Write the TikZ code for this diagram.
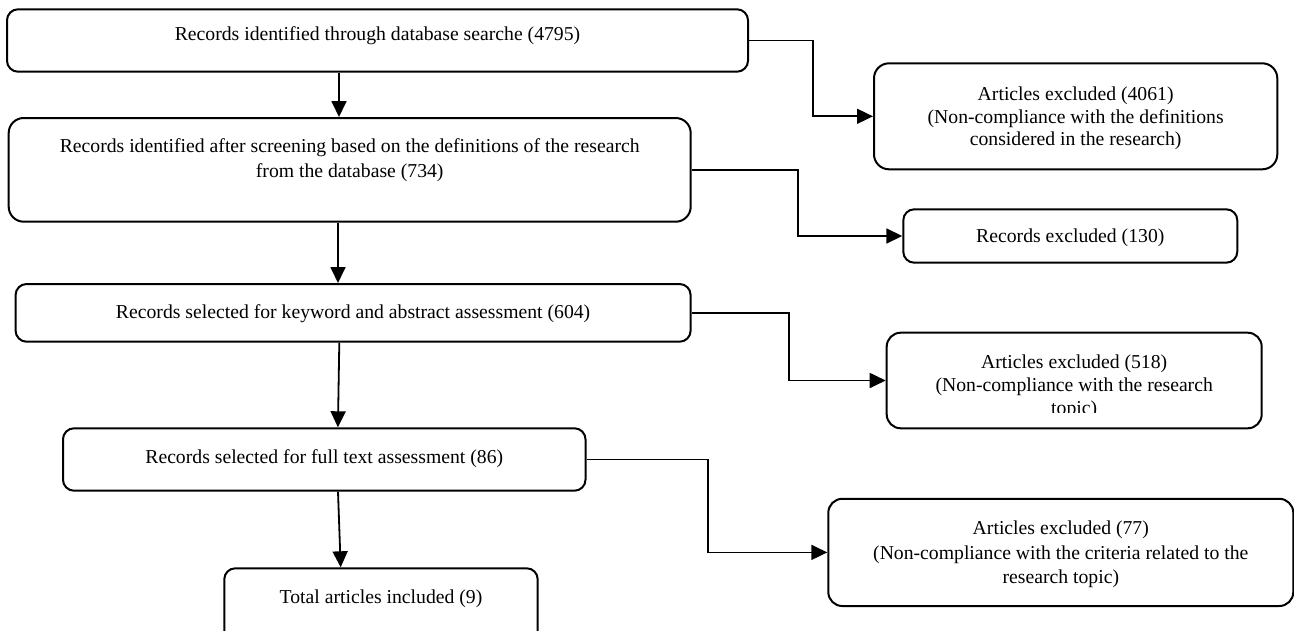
\documentclass[tikz,border=0pt]{standalone}
\usepackage{fontspec}
\setmainfont{Liberation Serif}
\usetikzlibrary{arrows.meta}
\begin{document}
\begin{tikzpicture}[x=1pt,y=-1pt,
  box/.style={draw, line width=2pt, rounded corners=11pt, inner sep=0pt},
  txt/.style={anchor=base, inner sep=0pt, font=\fontsize{19.7}{22.5}\selectfont},
  conn/.style={line width=1.8pt, -{Triangle[length=16pt,width=15pt]}}]
\useasboundingbox (0,0) rectangle (1294,630);
\clip (0,0) rectangle (1294,630);
% left column boxes
\node[box, minimum width=741pt, minimum height=62.4pt] (A) at (377.5,40.5) {};
\node[box, rounded corners=15pt, minimum width=682pt, minimum height=103.7pt] (B) at (349.7,169.85) {};
\node[box, minimum width=675pt, minimum height=57.7pt] (C) at (353.1,312.85) {};
\node[box, minimum width=522.5pt, minimum height=62.4pt] (D) at (324.25,459.5) {};
\node[box, minimum width=313.4pt, minimum height=81.4pt] (E) at (381,609) {};
% right column boxes
\node[box, rounded corners=15pt, minimum width=403.3pt, minimum height=106pt] (R1) at (1075.65,116.3) {};
\node[box, minimum width=334pt, minimum height=53.4pt] (R2) at (1070.3,236) {};
\node[box, rounded corners=14pt, minimum width=375pt, minimum height=95.6pt] (R3) at (1074.2,380.5) {};
\node[box, rounded corners=14pt, minimum width=465pt, minimum height=107.2pt] (R4) at (1060.8,552.4) {};
% texts
\node[txt] (At) at (377.5,40) {Records identified through database searche (4795)};
\node[txt] (Bt1) at (349.7,152) {Records identified after screening based on the definitions of the research};
\node[txt] (Bt2) at (349.7,177.5) {from the database (734)};
\node[txt] (Ct) at (353.1,318.5) {Records selected for keyword and abstract assessment (604)};
\node[txt] (Dt) at (324.25,463) {Records selected for full text assessment (86)};
\node[txt] (Et) at (381,603.5) {Total articles included (9)};
\node[txt] (R1t1) at (1075.65,100.5) {Articles excluded (4061)};
\node[txt] (R1t2) at (1075.65,123) {(Non-compliance with the definitions};
\node[txt] (R1t3) at (1075.65,145.5) {considered in the research)};
\node[txt] (R2t) at (1070.3,242.5) {Records excluded (130)};
\node[txt] (R3t1) at (1074.2,368.3) {Articles excluded (518)};
\node[txt] (R3t2) at (1074.2,391) {(Non-compliance with the research};
\begin{scope}
  \clip (880,330) rectangle (1262,412.5);
  \node[txt] (R3t3) at (1074.2,414) {topic)};
\end{scope}
\node[txt] (R4t1) at (1060.8,534.5) {Articles excluded (77)};
\node[txt] (R4t2) at (1060.8,559) {(Non-compliance with the criteria related to the};
\node[txt] (R4t3) at (1060.8,583) {research topic)};
% vertical arrows
\draw[conn] ([xshift=-38.5pt]A.south) -- ([xshift=-10.7pt]B.north);
\draw[conn] ([xshift=-11.7pt]B.south) -- ([xshift=-15.1pt]C.north);
\draw[conn] ([xshift=-13.8pt]C.south) -- ([xshift=13.65pt]D.north);
\draw[conn] ([xshift=13.75pt]D.south) -- ([xshift=-40.3pt]E.north);
% elbow arrows
\draw[conn] (A.east) -- ++(63.7,0) |- (R1.west);
\draw[conn] (B.east) -- ++(106,0) |- (R2.west);
\draw[conn] (C.east) -- ++(97,0) |- (R3.west);
\draw[conn] (D.east) -- ++(121.7,0) |- (R4.west);
\end{tikzpicture}
\end{document}
